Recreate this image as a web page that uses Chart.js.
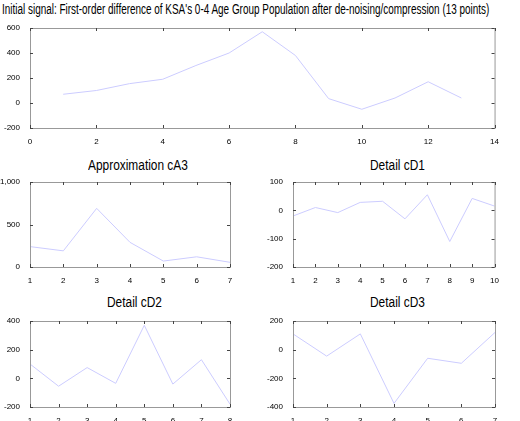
<!DOCTYPE html>
<html>
<head>
<meta charset="utf-8">
<script src="https://cdn.jsdelivr.net/npm/chart.js@4"></script>
<style>
  body { margin: 0; background: #fff; width: 520px; height: 421px; position: relative; overflow: hidden;
         font-family: "Liberation Sans Narrow", "Liberation Sans", Arial, sans-serif; }
  canvas { position: absolute; }
  .t { position: absolute; font-size: 14px; color: #000; white-space: nowrap; transform: scaleX(0.85); transform-origin: left top; }
</style>
</head>
<body>
<div class="t" style="left:2px;top:1px;transform:scaleX(0.71);">Initial signal: First-order difference of KSA's 0-4 Age Group Population after de-noising/compression (13 points)</div>
<div class="t" style="left:88px;top:157px;">Approximation cA3</div>
<div class="t" style="left:370px;top:157px;">Detail cD1</div>
<div class="t" style="left:107px;top:294px;">Detail cD2</div>
<div class="t" style="left:370px;top:294px;">Detail cD3</div>
<canvas id="c0" style="left:0;top:20px;width:500px;height:126px"></canvas>
<canvas id="c1" style="left:0;top:175px;width:235px;height:110px"></canvas>
<canvas id="c2" style="left:263px;top:175px;width:237px;height:110px"></canvas>
<canvas id="c3" style="left:0;top:314px;width:235px;height:107px"></canvas>
<canvas id="c4" style="left:263px;top:314px;width:237px;height:107px"></canvas>
<script>
const signal = [70, 100, 155, 190, 300, 400, 570, 380, 35, -50, 40, 170, 40];
const cA3 = [240, 190, 690, 290, 70, 120, 55];
const cD1 = [-20, 10, -8, 28, 32, -30, 55, -110, 42, 15];
const cD2 = [100, -55, 75, -35, 370, -40, 130, -180];
const cD3 = [110, -45, 110, -375, -60, -95, 120];

const boxPlugin = {
  id: "box",
  afterDraw(chart) {
    const { ctx, chartArea: a, scales } = chart;
    ctx.save();
    ctx.strokeStyle = "#999";
    ctx.lineWidth = 1;
    ctx.strokeRect(a.left + 0.5, a.top + 0.5, a.width, a.height);
    ctx.strokeStyle = "#444";
    scales.x.ticks.forEach(t => {
      const px = Math.round(scales.x.getPixelForValue(t.value)) + 0.5;
      ctx.beginPath();
      ctx.moveTo(px, a.bottom); ctx.lineTo(px, a.bottom - 3);
      ctx.moveTo(px, a.top); ctx.lineTo(px, a.top + 3);
      ctx.stroke();
    });
    scales.y.ticks.forEach(t => {
      const py = Math.round(scales.y.getPixelForValue(t.value)) + 0.5;
      ctx.beginPath();
      ctx.moveTo(a.left, py); ctx.lineTo(a.left + 3, py);
      ctx.moveTo(a.right, py); ctx.lineTo(a.right - 3, py);
      ctx.stroke();
    });
    ctx.restore();
  }
};

function makeChart(id, values, xmin, xmax, xstep, ymin, ymax, ystep, padTop, xh) {
  const pts = values.map((v, i) => ({ x: i + 1, y: v }));
  const font = { family: "'Liberation Sans Narrow', 'Liberation Sans', Arial", size: 8 };
  new Chart(document.getElementById(id), {
    type: "line",
    data: { datasets: [{ data: pts, borderColor: "#ccccff", borderWidth: 1, pointRadius: 0, tension: 0 }] },
    options: {
      responsive: false, maintainAspectRatio: false, animation: false,
      layout: { padding: { top: padTop, right: 5, left: 0, bottom: 0 } },
      plugins: { legend: { display: false }, tooltip: { enabled: false } },
      scales: {
        x: {
          type: "linear", min: xmin, max: xmax,
          ticks: { stepSize: xstep, color: "#000", font, padding: 1, maxRotation: 0 },
          grid: { display: false }, border: { display: false },
          afterFit(s) { s.height = xh; }
        },
        y: {
          min: ymin, max: ymax,
          ticks: { stepSize: ystep, color: "#000", font, padding: 2 },
          grid: { display: false }, border: { display: false },
          afterFit(s) { s.width = 30; }
        }
      }
    },
    plugins: [boxPlugin]
  });
}

document.querySelectorAll("canvas").forEach(c => {
  c.width = parseInt(c.style.width); c.height = parseInt(c.style.height);
});

makeChart("c0", signal, 0, 14, 2, -200, 600, 200, 8, 18);
makeChart("c1", cA3, 1, 7, 1, 0, 1000, 500, 7, 18);
makeChart("c2", cD1, 1, 10, 1, -200, 100, 100, 7, 18);
makeChart("c3", cD2, 1, 8, 1, -200, 400, 200, 7, 14);
makeChart("c4", cD3, 1, 7, 1, -400, 200, 200, 7, 14);
</script>
</body>
</html>
